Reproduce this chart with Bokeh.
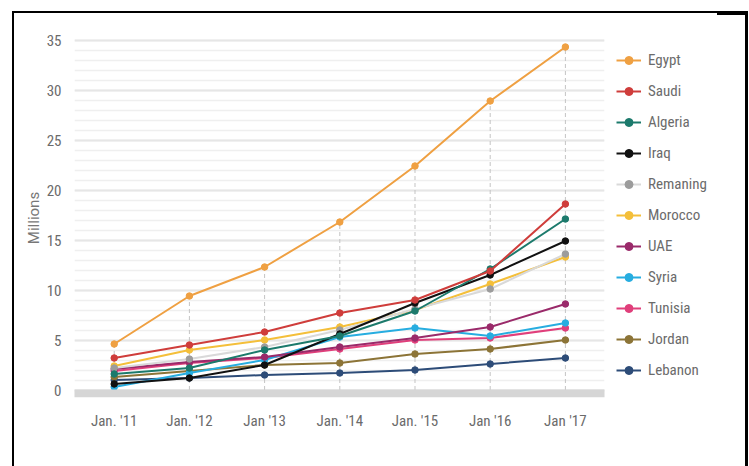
from bokeh.plotting import figure
from bokeh.models import (Legend, LegendItem, SingleIntervalTicker, Span,
                          FixedTicker, InlineStyleSheet)
from bokeh.embed import file_html
from bokeh.resources import INLINE

# Passenger numbers (millions), January of each year
periods = ["Jan. '11", "Jan. '12", "Jan '13", "Jan. '14", "Jan. '15", "Jan '16", "Jan '17"]

egypt = [4.6, 9.4, 12.3, 16.8, 22.4, 28.9, 34.3]
saudi = [3.2, 4.5, 5.8, 7.7, 9.0, 11.9, 18.6]
algeria = [1.6, 2.2, 4.0, 5.4, 7.9, 12.1, 17.1]
iraq = [0.6, 1.2, 2.5, 5.6, 8.7, 11.5, 14.9]
remaning = [2.2, 3.1, 4.3, 6.0, 8.1, 10.1, 13.6]
morocco = [2.4, 4.0, 5.0, 6.3, 8.0, 10.6, 13.3]
uae = [2.1, 2.8, 3.3, 4.3, 5.2, 6.3, 8.6]
syria = [0.3, 1.7, 3.0, 5.3, 6.2, 5.4, 6.7]
tunisia = [1.9, 2.7, 3.2, 4.1, 5.0, 5.2, 6.2]
jordan = [1.3, 1.9, 2.5, 2.7, 3.6, 4.1, 5.0]
lebanon = [1.0, 1.2, 1.5, 1.7, 2.0, 2.6, 3.2]

series = [
    ("Egypt", egypt, "#efa042", "#efa042"),
    ("Saudi", saudi, "#cf3d3b", "#cf3d3b"),
    ("Algeria", algeria, "#1c7a6c", "#1c7a6c"),
    ("Iraq", iraq, "#111111", "#111111"),
    ("Remaning", remaning, "#d9d9d9", "#9c9c9c"),
    ("Morocco", morocco, "#f4bf3a", "#f4bf3a"),
    ("UAE", uae, "#9a2a6a", "#9a2a6a"),
    ("Syria", syria, "#27ade0", "#27ade0"),
    ("Tunisia", tunisia, "#e03f7b", "#e03f7b"),
    ("Jordan", jordan, "#8c7437", "#8c7437"),
    ("Lebanon", lebanon, "#2d4c78", "#2d4c78"),
]

FONT = "Roboto Condensed, Liberation Sans Narrow, Roboto"
GREY_TEXT = "#6b6b6b"

xs = list(range(len(periods)))

# black page frame drawn around the chart (open at the bottom)
frame_css = InlineStyleSheet(css="""
:host { position: relative; }
:host::after {
  content: ""; position: absolute; z-index: 10; pointer-events: none;
  left: 12px; top: 11px; width: 731px; height: 470px;
  border: 2px solid black; border-bottom: none; border-right-width: 3px;
}
:host::before {
  content: ""; position: absolute; z-index: 11; pointer-events: none;
  left: 717px; top: 11px; width: 29px; height: 4px; background: black;
}
""")

p = figure(frame_width=530, frame_height=359, output_backend="svg",
           toolbar_location=None,
           x_range=(-0.528, 6.52), y_range=(-0.75, 35.15),
           min_border_left=74, min_border_right=145,
           min_border_top=38, min_border_bottom=69,
           stylesheets=[frame_css])
p.outline_line_color = None
p.background_fill_color = "white"
p.border_fill_color = "white"

# horizontal grid: every 5 (major) with a line at every unit
p.yaxis.ticker = SingleIntervalTicker(interval=5, num_minor_ticks=5)
p.ygrid.grid_line_color = "#e6e6e6"
p.ygrid.grid_line_width = 2
p.ygrid.minor_grid_line_color = "#efefef"
p.ygrid.minor_grid_line_width = 1.3
p.xgrid.grid_line_color = None

# axes: labels only
for ax in (p.xaxis, p.yaxis):
    ax.axis_line_color = None
    ax.major_tick_line_color = None
    ax.minor_tick_line_color = None
    ax.major_label_text_font = FONT
    ax.major_label_text_color = GREY_TEXT
    ax.major_label_text_font_size = "15px"

p.xaxis.ticker = FixedTicker(ticks=xs)
p.xaxis.major_label_overrides = {i: lab for i, lab in enumerate(periods)}
p.xaxis.major_label_standoff = 8
p.yaxis.major_label_standoff = 7
p.yaxis.axis_label = "Millions"
p.yaxis.axis_label_text_font = "Roboto"
p.yaxis.axis_label_text_font_style = "normal"
p.yaxis.axis_label_text_font_size = "15px"
p.yaxis.axis_label_text_color = "#777777"
p.yaxis.axis_label_standoff = 1

# dashed drop lines from the highest value at each period
tops = [max(vals[i] for _, vals, _, _ in series) for i in xs]
p.segment(x0=xs, y0=[0] * len(xs), x1=xs, y1=tops,
          line_color="#c4c4c4", line_width=1, line_dash="4 3")

# baseline bar
p.add_layout(Span(location=-0.35, dimension="width", line_color="#d6d6d6",
                  line_width=8, line_cap="round"))

items = []
for name, vals, lc, mc in reversed(series):
    r_line = p.line(xs, vals, line_color=lc, line_width=2)
    r_dot = p.scatter(xs, vals, size=6.5, fill_color=mc, line_color=mc)
    items.append(LegendItem(label=name, renderers=[r_line, r_dot]))
items.reverse()

legend = Legend(items=items, location="top_left", orientation="vertical",
                glyph_width=25, glyph_height=20, label_height=20,
                spacing=11, padding=0, margin=12, label_standoff=7,
                label_text_font=FONT, label_text_font_size="15px",
                label_text_color=GREY_TEXT, border_line_color=None,
                background_fill_alpha=0)
p.add_layout(legend, "right")

open("out.html", "w").write(file_html(p, INLINE))
